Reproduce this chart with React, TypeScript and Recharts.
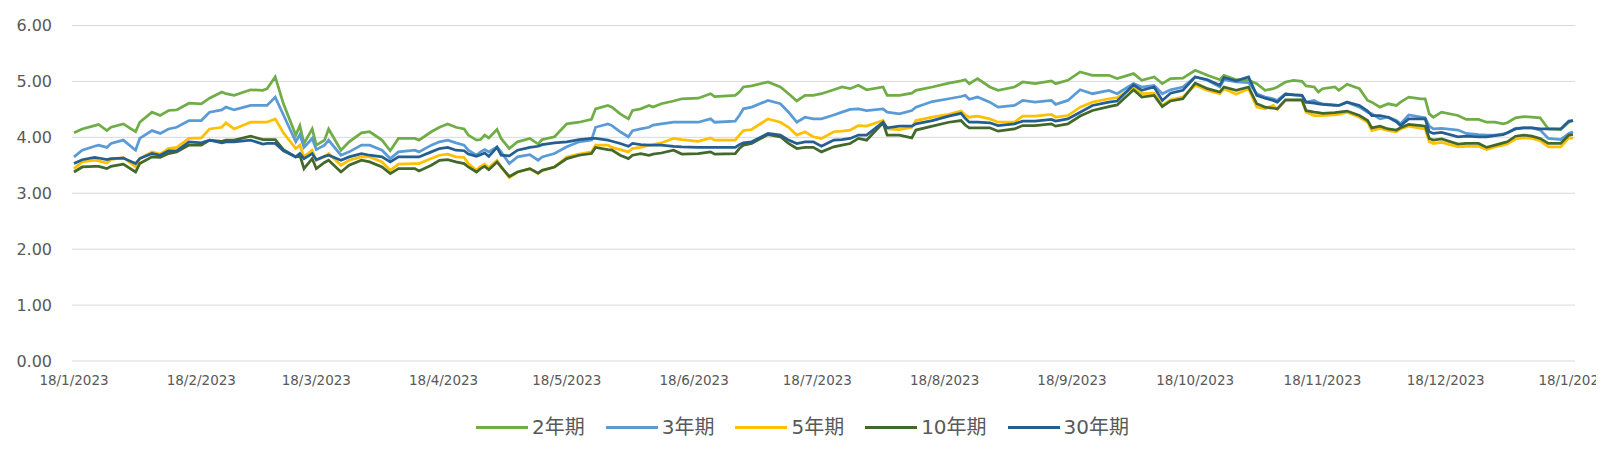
import React from 'react';
import { LineChart, Line, XAxis, YAxis, CartesianGrid } from 'recharts';

// Observation dates (x axis categories)
const dates = [
  '2023-01-18','2023-01-20','2023-01-23','2023-01-24','2023-01-26','2023-01-27','2023-01-30',
  '2023-02-02','2023-02-03','2023-02-06','2023-02-08','2023-02-10','2023-02-12','2023-02-15','2023-02-18','2023-02-20','2023-02-23','2023-02-24','2023-02-26',
  '2023-03-02','2023-03-05','2023-03-06','2023-03-08','2023-03-10','2023-03-13','2023-03-14','2023-03-15','2023-03-17','2023-03-18','2023-03-20','2023-03-21','2023-03-24','2023-03-26','2023-03-29','2023-03-31',
  '2023-04-03','2023-04-05','2023-04-07','2023-04-11','2023-04-12','2023-04-15','2023-04-17','2023-04-19','2023-04-21','2023-04-23','2023-04-24','2023-04-26','2023-04-27','2023-04-28','2023-04-29',
  '2023-05-01','2023-05-02','2023-05-04','2023-05-06','2023-05-09','2023-05-11','2023-05-12','2023-05-15','2023-05-18','2023-05-21','2023-05-24','2023-05-25','2023-05-28','2023-05-29','2023-05-31',
  '2023-06-02','2023-06-03','2023-06-05','2023-06-07','2023-06-08','2023-06-10','2023-06-13','2023-06-15','2023-06-19','2023-06-22','2023-06-23','2023-06-28','2023-06-29','2023-06-30',
  '2023-07-02','2023-07-06','2023-07-09','2023-07-11','2023-07-13','2023-07-15','2023-07-17','2023-07-19','2023-07-22','2023-07-24','2023-07-26','2023-07-28','2023-07-30',
  '2023-08-03','2023-08-04','2023-08-07','2023-08-10','2023-08-11','2023-08-15','2023-08-19','2023-08-22','2023-08-23','2023-08-24','2023-08-26','2023-08-29','2023-08-31',
  '2023-09-04','2023-09-06','2023-09-09','2023-09-13','2023-09-14','2023-09-17','2023-09-20','2023-09-23','2023-09-27','2023-09-29',
  '2023-10-03','2023-10-05','2023-10-08','2023-10-10','2023-10-12','2023-10-15','2023-10-18','2023-10-21','2023-10-24','2023-10-25','2023-10-28','2023-10-31',
  '2023-11-02','2023-11-04','2023-11-06','2023-11-07','2023-11-09','2023-11-11','2023-11-13','2023-11-14','2023-11-16','2023-11-17','2023-11-18','2023-11-21','2023-11-22','2023-11-24','2023-11-27','2023-11-29','2023-11-30',
  '2023-12-02','2023-12-04','2023-12-06','2023-12-07','2023-12-09','2023-12-12','2023-12-13','2023-12-14','2023-12-15','2023-12-17','2023-12-21','2023-12-23','2023-12-26','2023-12-28','2023-12-30',
  '2024-01-01','2024-01-02','2024-01-04','2024-01-06','2024-01-08','2024-01-10','2024-01-12','2024-01-15','2024-01-17','2024-01-18',
];

const yield2Y = [
  4.08,4.15,4.21,4.23,4.12,4.18,4.24,
  4.10,4.27,4.45,4.39,4.48,4.49,4.61,4.60,4.70,4.81,4.78,4.75,
  4.85,4.84,4.87,5.08,4.60,4.04,4.21,3.89,4.15,3.86,3.95,4.15,3.77,3.92,4.08,4.10,
  3.95,3.76,3.98,3.98,3.95,4.10,4.18,4.24,4.18,4.15,4.04,3.95,3.96,4.04,3.99,
  4.14,3.98,3.80,3.92,3.98,3.88,3.96,4.01,4.24,4.27,4.32,4.51,4.57,4.54,4.42,
  4.33,4.48,4.51,4.57,4.54,4.60,4.65,4.69,4.70,4.78,4.73,4.75,4.81,4.90,
  4.92,4.99,4.90,4.78,4.65,4.75,4.75,4.78,4.85,4.90,4.87,4.93,4.85,
  4.90,4.75,4.75,4.79,4.84,4.90,4.97,5.01,5.03,4.96,5.05,4.90,4.84,
  4.90,4.99,4.96,5.01,4.96,5.02,5.17,5.11,5.11,5.05,
  5.14,5.02,5.08,4.96,5.05,5.06,5.20,5.11,5.03,5.11,5.03,5.02,
  4.96,4.84,4.87,4.90,4.99,5.02,5.00,4.92,4.90,4.81,4.87,4.90,4.84,4.95,4.87,4.66,4.63,
  4.54,4.60,4.57,4.63,4.72,4.69,4.69,4.42,4.36,4.45,4.39,4.32,4.32,4.27,4.27,
  4.24,4.26,4.35,4.37,4.36,4.35,4.15,4.14,4.27,4.30,
];

const yield3Y = [
  3.65,3.77,3.84,3.86,3.82,3.89,3.95,
  3.77,3.98,4.12,4.07,4.15,4.18,4.30,4.30,4.45,4.49,4.54,4.49,
  4.57,4.57,4.57,4.72,4.40,3.92,4.05,3.82,3.98,3.78,3.86,3.95,3.68,3.74,3.86,3.86,
  3.77,3.62,3.74,3.77,3.74,3.86,3.92,3.95,3.90,3.86,3.77,3.68,3.74,3.78,3.74,
  3.83,3.74,3.53,3.65,3.69,3.59,3.65,3.71,3.83,3.92,3.95,4.18,4.24,4.21,4.10,
  4.01,4.12,4.15,4.18,4.22,4.24,4.27,4.27,4.27,4.33,4.27,4.29,4.39,4.51,
  4.54,4.66,4.60,4.45,4.27,4.36,4.33,4.33,4.40,4.45,4.50,4.51,4.48,
  4.51,4.45,4.42,4.48,4.54,4.64,4.69,4.73,4.75,4.68,4.72,4.63,4.54,
  4.57,4.66,4.63,4.66,4.59,4.66,4.85,4.78,4.84,4.78,
  4.96,4.90,4.93,4.78,4.85,4.90,5.08,5.02,4.90,5.03,4.99,4.98,
  4.78,4.72,4.69,4.66,4.78,4.76,4.75,4.63,4.66,4.62,4.60,4.58,4.57,4.63,4.54,4.45,4.42,
  4.33,4.36,4.30,4.24,4.40,4.36,4.35,4.20,4.15,4.16,4.13,4.07,4.05,4.04,4.04,
  4.06,4.08,4.16,4.17,4.17,4.13,3.98,3.96,4.07,4.10,
];

const yield5Y = [
  3.44,3.56,3.59,3.58,3.54,3.60,3.64,
  3.47,3.62,3.74,3.70,3.80,3.82,3.98,3.99,4.15,4.18,4.26,4.15,
  4.27,4.27,4.27,4.33,4.08,3.80,3.86,3.65,3.77,3.59,3.65,3.71,3.50,3.59,3.65,3.65,
  3.56,3.41,3.52,3.53,3.53,3.62,3.68,3.70,3.65,3.64,3.53,3.41,3.48,3.52,3.46,
  3.59,3.47,3.28,3.38,3.44,3.35,3.41,3.47,3.65,3.70,3.74,3.86,3.86,3.82,3.78,
  3.74,3.80,3.82,3.86,3.87,3.90,3.98,3.96,3.93,3.99,3.95,3.95,4.04,4.12,
  4.14,4.33,4.27,4.18,4.04,4.10,4.01,3.98,4.10,4.11,4.13,4.21,4.20,
  4.30,4.15,4.14,4.18,4.30,4.36,4.41,4.47,4.40,4.36,4.38,4.33,4.27,
  4.27,4.38,4.38,4.41,4.36,4.39,4.54,4.63,4.69,4.71,
  4.90,4.78,4.79,4.57,4.67,4.72,4.93,4.84,4.78,4.87,4.77,4.87,
  4.54,4.51,4.57,4.50,4.66,4.66,4.66,4.45,4.39,4.39,4.39,4.40,4.41,4.45,4.36,4.27,4.12,
  4.16,4.12,4.10,4.15,4.20,4.16,4.15,3.92,3.89,3.91,3.83,3.84,3.84,3.78,3.83,
  3.86,3.88,3.97,3.99,3.98,3.94,3.83,3.83,3.99,3.98,
];

const yield10Y = [
  3.38,3.47,3.48,3.48,3.44,3.48,3.52,
  3.38,3.53,3.65,3.64,3.71,3.74,3.86,3.86,3.95,3.93,3.95,3.95,
  4.02,3.96,3.96,3.96,3.78,3.65,3.68,3.44,3.62,3.44,3.55,3.59,3.38,3.50,3.59,3.56,
  3.47,3.35,3.44,3.44,3.40,3.50,3.59,3.60,3.56,3.53,3.47,3.38,3.44,3.48,3.42,
  3.56,3.47,3.30,3.38,3.44,3.36,3.41,3.47,3.62,3.68,3.71,3.82,3.78,3.77,3.68,
  3.62,3.68,3.71,3.68,3.70,3.72,3.77,3.70,3.71,3.74,3.70,3.71,3.80,3.86,
  3.89,4.05,4.01,3.89,3.80,3.82,3.82,3.74,3.83,3.86,3.89,3.98,3.95,
  4.26,4.04,4.04,3.99,4.13,4.20,4.27,4.30,4.22,4.17,4.17,4.17,4.11,
  4.15,4.21,4.21,4.24,4.20,4.24,4.38,4.48,4.55,4.58,
  4.85,4.72,4.75,4.55,4.65,4.69,4.97,4.87,4.81,4.90,4.84,4.90,
  4.60,4.54,4.52,4.51,4.67,4.67,4.67,4.48,4.45,4.44,4.43,4.44,4.45,4.47,4.39,4.30,4.17,
  4.20,4.15,4.13,4.17,4.23,4.21,4.20,3.98,3.95,3.97,3.88,3.89,3.89,3.82,3.86,
  3.90,3.92,4.02,4.04,4.02,3.98,3.89,3.89,4.04,4.05,
];

const yield30Y = [
  3.53,3.60,3.64,3.63,3.60,3.62,3.63,
  3.53,3.62,3.71,3.68,3.76,3.76,3.92,3.90,3.95,3.90,3.92,3.92,
  3.95,3.88,3.89,3.89,3.76,3.65,3.71,3.62,3.71,3.60,3.66,3.68,3.59,3.65,3.71,3.68,
  3.65,3.56,3.65,3.65,3.65,3.74,3.80,3.82,3.77,3.76,3.70,3.66,3.69,3.72,3.66,
  3.82,3.68,3.67,3.77,3.82,3.84,3.87,3.90,3.92,3.96,3.98,3.98,3.95,3.93,3.89,
  3.84,3.89,3.87,3.86,3.86,3.86,3.84,3.83,3.82,3.82,3.82,3.82,3.87,3.90,
  3.92,4.07,4.04,3.95,3.89,3.92,3.92,3.84,3.95,3.96,3.98,4.04,4.04,
  4.27,4.17,4.20,4.20,4.24,4.30,4.38,4.43,4.34,4.27,4.27,4.26,4.21,
  4.24,4.29,4.29,4.32,4.29,4.33,4.45,4.57,4.63,4.65,
  4.94,4.84,4.90,4.66,4.79,4.84,5.08,5.03,4.93,5.07,5.01,5.08,
  4.75,4.70,4.66,4.63,4.77,4.76,4.75,4.63,4.61,4.60,4.59,4.57,4.57,4.63,4.57,4.47,4.39,
  4.39,4.36,4.28,4.21,4.33,4.33,4.33,4.10,4.07,4.09,4.01,4.02,4.01,4.01,4.03,
  4.05,4.08,4.15,4.17,4.17,4.15,4.15,4.15,4.29,4.30,
];

const seriesNames = ['2年期', '3年期', '5年期', '10年期', '30年期'];
const seriesColors = ['#70AD47', '#5B9BD5', '#FFC000', '#43682B', '#255E91'];
const seriesValues = [yield2Y, yield3Y, yield5Y, yield10Y, yield30Y];

const tickDates = [
  '2023-01-18','2023-02-18','2023-03-18','2023-04-18','2023-05-18','2023-06-18','2023-07-18',
  '2023-08-18','2023-09-18','2023-10-18','2023-11-18','2023-12-18','2024-01-18',
];
const tickLabels = [
  '18/1/2023','18/2/2023','18/3/2023','18/4/2023','18/5/2023','18/6/2023','18/7/2023',
  '18/8/2023','18/9/2023','18/10/2023','18/11/2023','18/12/2023','18/1/2024',
];
const yTicks = [0, 1, 2, 3, 4, 5, 6];

const DAY_MS = 86400000;
const ORIGIN = Date.UTC(2023, 0, 18);
const toDay = (s: string) => {
  const [y, m, d] = s.split('-').map(Number);
  return (Date.UTC(y, m - 1, d) - ORIGIN) / DAY_MS;
};

const tickDays = tickDates.map(toDay);

const data = dates.map((d, i) => {
  const row: Record<string, number> = { t: toDay(d) };
  seriesValues.forEach((vals, k) => {
    row[`s${k}`] = vals[i];
  });
  return row;
});

const FONT = '"DejaVu Sans", "Noto Sans CJK SC", sans-serif';

export default function App() {
  return (
    <div style={{ position: 'relative', width: 1596, height: 444, fontFamily: FONT }}>
      <LineChart
        width={1596}
        height={444}
        data={data}
        margin={{ top: 17.5, right: 29, bottom: 51, left: 0 }}
      >
        <CartesianGrid vertical={false} stroke="#d9d9d9" strokeWidth={1} />
        <XAxis
          dataKey="t"
          type="number"
          domain={[0, 365]}
          ticks={tickDays}
          interval={0}
          padding={{ left: 2, right: 2 }}
          axisLine={false}
          tickLine={false}
          tickSize={0}
          tickMargin={14}
          height={40}
          tick={{ fill: '#595959', fontSize: 13.5, fontFamily: FONT }}
          tickFormatter={(v: number) => tickLabels[tickDays.indexOf(v)] ?? ''}
        />
        <YAxis
          type="number"
          domain={[0, 6]}
          ticks={yTicks}
          interval={0}
          width={64}
          axisLine={false}
          tickLine={false}
          tickSize={0}
          tickMargin={20}
          tick={{ fill: '#595959', fontSize: 16, fontFamily: FONT }}
          tickFormatter={(v: number) => v.toFixed(2)}
        />
        {seriesNames.map((name, k) => (
          <Line
            key={name}
            name={name}
            dataKey={`s${k}`}
            type="linear"
            stroke={seriesColors[k]}
            strokeWidth={2.75}
            dot={false}
            activeDot={false}
            isAnimationActive={false}
          />
        ))}
      </LineChart>
      <div
        style={{
          position: 'absolute',
          top: 407,
          left: 0,
          width: 1589,
          height: 24,
          display: 'flex',
          justifyContent: 'center',
          alignItems: 'center',
          gap: 21,
        }}
      >
        {seriesNames.map((name, k) => (
          <div key={name} style={{ display: 'flex', alignItems: 'center', gap: 4 }}>
            <div style={{ width: 52, height: 3, background: seriesColors[k] }} />
            <span style={{ fontSize: 20, color: '#595959', lineHeight: '24px', fontFamily: FONT }}>{name}</span>
          </div>
        ))}
      </div>
    </div>
  );
}
